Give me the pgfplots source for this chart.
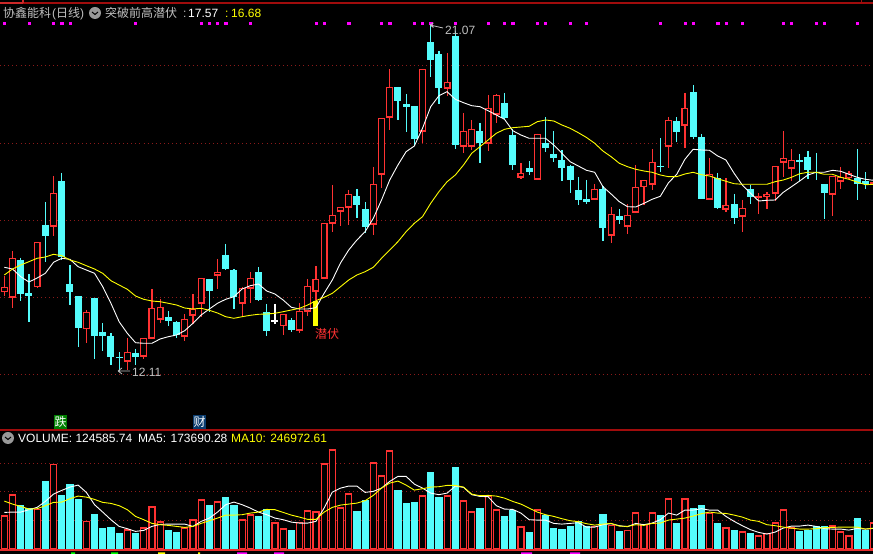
\documentclass[border=0pt]{standalone}
\usepackage{pgfplots}
\usepackage{pgfplotstable}
\usepackage{fontspec}
\pgfplotsset{compat=1.18}
\setmainfont{Liberation Sans}
\newfontfamily\cjk{Noto Sans CJK SC}

\definecolor{upred}{HTML}{FF3232}
\definecolor{downcyan}{HTML}{54FCFC}
\definecolor{gridred}{HTML}{8C1A1A}
\definecolor{linered}{HTML}{A00C0C}
\definecolor{labelgray}{HTML}{C0C0C0}
\definecolor{yellow}{HTML}{FFFF00}
\definecolor{magenta}{HTML}{FF00FF}
\definecolor{flaggreen}{HTML}{008000}
\definecolor{flagblue}{HTML}{0A3C6E}
\definecolor{cutgreen}{HTML}{00FF00}

% prices and averages are read in pixels from the top of the chart
% columns: day, body top, body bottom, high, low
\pgfplotstableread{
i top bot hi lo
0 287.3 292 275.7 296
1 258.3 297.7 251 308
4 242.3 287 242.3 288
6 193.3 226.7 176 236
10 312 329 310 343
15 352.3 361.7 338 370
17 338.3 356.7 338.3 359
18 308.3 338.7 289 339
19 307.3 319.7 299 323
22 319.3 336.7 314 341
23 309.3 315.7 294 324
24 278.3 303.7 278 317
26 272.3 275.7 259 289
29 288.3 303.7 287 317
30 278.3 288.7 272 303
34 314 326 314 335
36 311.3 330.7 303 333
37 286.3 311.7 279 316
38 279.3 291.7 266 300
39 223.3 278.7 223.3 278.7
40 215 223.7 185 232
41 207.3 211.7 207 226
42 194.3 207.7 190 225
45 184.3 224.7 167 235
46 118.3 174.7 118 188
47 87.3 117.7 69 130
51 69.3 131.7 69 143
54 82.3 88.7 53 96
56 131.3 146.7 113 153
57 129.3 146.7 120 150
59 108.3 143.7 95 151
60 95.3 114.7 94 123
63 173.3 177.7 163 179
65 133.7 179.7 133.7 180
72 189.3 199.7 184 200
74 214.3 235.7 207 243
76 215.3 226.7 204 234
77 187.3 212.7 165 213
78 180.3 187.3 180 205
79 162.3 184.7 149 190
81 120.3 146.7 117 168
83 108.3 125.7 93 148
86 174.3 199.7 158 200
88 205.3 209.7 178 212
90 208.3 216.7 200 232
92 196 198 193 214
93 194.3 197 192 209
94 166.3 193.7 166 201
95 158.3 162.7 131 177
96 160.3 168.7 149 181
101 176.3 194.7 176 216
102 177.3 181.7 167 189
103 173.3 178 171 179
106 182 184 180 186
}\upcandles

\pgfplotstableread{
i top bot hi lo
2 260 294 257.7 301
3 293 296 274 322
5 225 236 202 262
7 181 257.3 173 260
8 284 292 265 305
9 296 328 296 347
11 298 336 298 359
12 332 336 323 351
13 336 357 333 365
14 357 358 352 371
16 353 357 349 365
20 317 321 311 326
21 322 335 321 338
25 279 291 279 312
27 255 269 244 270
28 270 297 269 309
31 272 300 267 301
32 312 331 304 336
35 320 330 318 332
43 196 205 189 218
44 209 227 202 233
48 87 101 87 120
49 104 107 94 132
50 106 139 106 146
52 42 60 23 77
53 54 88 51 104
55 36 145 31 149
58 131 143 123 163
61 103 118 93 119
62 135 165 129 170
64 168 172 161 175
66 143 148 117 152
67 154 158 131 162
68 160 168 150 181
69 166 180 165 193
70 190 200 177 205
71 199 202 180 204
73 189 228 186 241
75 216 220 209 224
80 166 167 138 172
82 121 132 117 142
84 92 137 85 139
85 137 199 134 199
87 178 208 173 209
89 204 218 194 224
91 189 197 185 204
97 160 162 154 181
98 157 170 151 179
99 172 173 153 180
100 184 193 184 219
104 178 184 149 200
105 181 184 172 189
}\downcandles

\pgfplotstableread{
i top bot hi lo
33 320 321.7 304 324
}\flatcandles

\pgfplotstableread{
i ma5 ma10
0 267.3 275
1 269 269
2 276.7 265
3 282 261.7
4 278 258.3
5 273.3 257
6 262.3 254.3
7 258.3 255.7
8 259.3 260
9 266.7 262.3
10 270 265.7
11 273.3 269
12 286.7 273.3
13 303.3 280.7
14 321.7 285
15 333.3 289.3
16 342.7 296
17 343.3 299.3
18 343.3 301
19 339 301.7
20 336.7 303.3
21 335 305
22 330.7 308
23 323.3 309
24 315 308.3
25 309 310.3
26 303.3 313
27 299.3 316.7
28 296.7 318.3
29 289 316.7
30 285.7 315.3
31 284 314.3
32 291 314
33 294 313.3
34 300 311.7
35 307.3 310
36 309 308.3
37 309 305
38 307.7 300.7
39 293.3 297.3
40 280 293.3
41 263 286.7
42 250 280
43 240 275
44 231.7 271.7
45 218.3 267.3
46 200 258.3
47 180 250
48 165 241.7
49 151.7 231.7
50 146 223.3
51 128.3 216.7
52 106.7 203.3
53 95.7 191.7
54 91.7 181.7
55 99.3 175
56 102.7 165
57 105.7 153.3
58 106.7 146.7
59 110.7 140
60 115 133.3
61 119.3 129.3
62 130.7 127.7
63 135 127
64 138.3 126.3
65 138.3 121.7
66 138.3 120
67 145 121
68 153.3 125
69 161.7 128.3
70 166 132.7
71 170.3 137.5
72 172.3 143.3
73 186.7 151
74 194 156.7
75 201.7 163.3
76 206.7 166.7
77 207 169.3
78 203.3 171
79 199.3 172.3
80 196.3 175
81 182.7 176.7
82 174.3 176.7
83 159.3 174
84 149.3 172.3
85 150 174.7
86 150.3 176
87 156 178.7
88 160 181.3
89 173.3 183.7
90 185 184.3
91 193.3 184.3
92 201 184.3
93 200.3 184.3
94 200 181.7
95 192.3 180
96 186.7 177.3
97 181 173.7
98 175 172.3
99 172.3 172.3
100 172.3 174.3
101 170.3 174.3
102 171.3 177.3
103 174.3 179.3
104 177.3 182
105 179.3 184.7
106 180.3 184.3
}\priceavg

% volume bars, height in pixels above the baseline
\pgfplotstableread{
i v
0 32.3
1 53.3
4 38.7
6 83.7
10 26.7
15 18.3
17 20.3
18 41.3
19 26.3
22 20.3
23 28.3
24 48.3
26 46.3
29 28.3
30 33.3
33 25.3
34 19.3
36 26
37 37.3
38 36.3
39 84.3
40 98.3
41 40.3
42 54.3
45 85.3
46 72.3
47 97.3
51 52.3
54 52.3
56 47.3
57 36.3
59 51.7
60 38.3
63 21.3
65 38.3
72 21.7
74 22.7
76 17.7
77 35.3
78 23.7
79 35.3
81 49.3
83 49.3
86 34.7
88 20.3
90 16.3
92 12.3
93 14.7
94 25.3
95 38.3
96 20.3
101 22.3
102 16.3
103 12.3
106 25.3
}\volup

\pgfplotstableread{
i v
2 43
3 40
5 66.7
7 52.7
8 63.7
9 48.7
11 33.7
12 19.7
13 20.7
14 14.7
16 14.7
20 17.7
21 15.7
25 42.7
27 50.7
28 42.7
31 31.7
32 39
35 17.7
43 36.7
44 47.3
48 57.7
49 44.7
50 45.7
52 75.7
53 50.7
55 80.7
58 39.7
61 31.7
62 37.7
64 15.7
66 32.7
67 19.7
68 18.7
69 21.7
70 26.3
71 21.3
73 33.7
75 16.7
80 32.7
82 24.7
84 39.7
85 42.7
87 24.7
89 17.7
91 14.7
97 16.7
98 17.7
99 21.7
100 21.7
104 29.7
105 17.7
}\voldown

\pgfplotstableread{
i ma5 ma10
0 36 47.3
1 36.3 44.3
2 36.3 42
3 38.7 39.3
4 41 39.7
5 47 42.7
6 54.3 46
7 58 46.3
8 61.3 49.7
9 63.3 52.3
10 56 51.3
11 43.7 49
12 36.3 46
13 28.7 45
14 22 42.7
15 19.7 38.7
16 17 32
17 18 28.7
18 22 25
19 24 23.7
20 24.3 23
21 24.3 22
22 24.3 21
23 22 22
24 27 25
25 30.3 27.7
26 36.3 30.3
27 43.7 33.3
28 46.3 33.3
29 43.7 33.7
30 40.3 35.3
31 36.3 36.3
32 33.7 39
33 30.3 38.7
34 28.7 36
35 26.3 33.3
36 25.3 31.3
37 25.3 29
38 27 29
39 40.3 36.3
40 56.3 41
41 60.3 43.3
42 62.3 44.3
43 62.3 45.3
44 56 47.7
45 57 53
46 60.3 60.3
47 67 65.3
48 72 67.3
49 72 63.3
50 64.3 58.3
51 60.3 59.7
52 55.3 61.3
53 53.7 61.7
54 55.3 63
55 62.3 63
56 61 61.3
57 53.7 54.3
58 52 52.7
59 51.7 53
60 42.7 52.3
61 39.3 50.3
62 39 47
63 35.3 44.3
64 28.7 40.3
65 28.3 36.3
66 28.3 33.7
67 25 32
68 24.3 29.7
69 25 27.7
70 25.7 26.7
71 21.3 24.7
72 21.3 23.3
73 23.7 24.3
74 24.7 25
75 22.7 22.3
76 21.7 22
77 25 23.7
78 23.7 23
79 25.3 25
80 28.7 25.3
81 35.3 28.3
82 33.3 29.3
83 38.3 30.3
84 38.3 32.3
85 39.7 34.7
86 38.3 36.3
87 38.3 35.3
88 32 35
89 27 33.3
90 22.7 31.3
91 18.7 28.3
92 16 27
93 14.3 23.7
94 16.3 22.7
95 20.3 21.3
96 22.3 20.3
97 22.3 19.3
98 23.3 19.3
99 22 19.7
100 19.7 20.7
101 19.3 21
102 19.3 21.3
103 18.3 21.3
104 20 21.3
105 19.3 19.3
106 20 20.3
}\volavg

\pgfplotsset{
  chart/.style={
    scale only axis, width=873bp,
    xmin=-0.528, xmax=105.94,
    xtick=\empty, yticklabels={},
    axis line style={draw=none},
    major tick length=0pt,
    ymajorgrids,
    grid style={gridred, line width=0.9bp, dash pattern=on 1bp off 3.1bp},
  },
}
% one candle per table row: wick, then body. #2 outline colour, #3 fill colour
\newcommand\candles[3]{%
  \pgfplotstablegetrowsof{#1}%
  \pgfmathtruncatemacro\lastrow{\pgfplotsretval-1}%
  \pgfplotsforeachungrouped \r in {0,...,\lastrow}{%
    \pgfplotstablegetelem{\r}{i}\of#1\let\Ci\pgfplotsretval
    \pgfplotstablegetelem{\r}{hi}\of#1\let\Wh\pgfplotsretval
    \pgfplotstablegetelem{\r}{lo}\of#1\let\Wl\pgfplotsretval
    \pgfplotstablegetelem{\r}{top}\of#1\let\Bt\pgfplotsretval
    \pgfplotstablegetelem{\r}{bot}\of#1\let\Bb\pgfplotsretval
    \pgfmathsetmacro\Bl{\Ci-0.36}%
    \pgfmathsetmacro\Br{\Ci+0.36}%
    \pgfmathsetmacro\Bt{\Bt+0.6}%
    \pgfmathsetmacro\Bb{\Bb-0.6}%
    \edef\next{%
      \noexpand\addplot[forget plot, #2, line width=1.2bp] coordinates {(\Ci,\Wh) (\Ci,\Wl)};
      \noexpand\addplot[forget plot, draw=#2, fill=#3, line width=1.2bp]
        coordinates {(\Bl,\Bt) (\Br,\Bt) (\Br,\Bb) (\Bl,\Bb)} --cycle;
    }\next
  }}
% text with its base line at pixel x, y of the picture
\newcommand\txt[4]{\node[anchor=base west, inner sep=0pt, text=#3] at (#1bp,{(554-#2)*1bp}) {#4};}

\begin{document}
\begin{tikzpicture}[x=1bp, y=1bp]
\path[use as bounding box] (0,0) rectangle (873,554);
\fill[black] (0,0) rectangle (873,554);

\begin{axis}[chart, at={(0,0)}, anchor=south west,
  height=554bp, ymin=0, ymax=554, y dir=reverse,
  ytick={65,143,220,297,374}]
\candles{\upcandles}{upred}{black}
\candles{\downcandles}{downcyan}{downcyan}
\candles{\flatcandles}{white}{white}
% signal bar
\addplot[forget plot, draw=none, fill=yellow]
  coordinates {(37.65,301) (38.25,301) (38.25,325.7) (37.65,325.7)} --cycle;
\addplot[white, line width=0.9bp, no marks] table[x=i, y=ma5] {\priceavg};
\addplot[yellow, line width=0.9bp, no marks] table[x=i, y=ma10] {\priceavg};
% signal marks along the top
\addplot[only marks, mark=square*, mark size=1.1bp, color=magenta, mark options={draw=none}]
  table {
0 23
3 23
6 23
7 23
8 23
16 23
24 23
25 23
26 23
27 23
30 23
38 23
39 23
42 23
46 23
47 23
50 23
51 23
52 23
55 23
59 23
61 23
62 23
65 23
66 23
69 23
71 23
80 23
83 23
84 23
87 23
88 23
90 23
95 23
96 23
99 23
100 23
104 23
};
\end{axis}

\begin{axis}[chart, at={(0,5.6bp)}, anchor=south west,
  height=118bp, ymin=0, ymax=118,
  ytick={28.4,57.4,85.4}]
\addplot[ybar, bar width=6bp, bar shift=0pt, draw=upred, fill=black, line width=1.2bp]
  table[x=i, y=v] {\volup};
\addplot[ybar, bar width=6bp, bar shift=0pt, draw=downcyan, fill=downcyan, line width=1.2bp]
  table[x=i, y=v] {\voldown};
\addplot[white, line width=0.9bp, no marks] table[x=i, y=ma5] {\volavg};
\addplot[yellow, line width=0.9bp, no marks] table[x=i, y=ma10] {\volavg};
\end{axis}

% frame lines
\draw[linered, line width=1.2bp] (0,551) -- (873,551);
\draw[upred!80!black, line width=1.2bp] (0,551) -- (23,551) (23,551) -- (23,554);
\draw[linered, line width=1bp] (861,551) -- (861,554);
\draw[linered, line width=1.2bp] (0,124) -- (873,124);
\draw[upred!90!black, line width=1.2bp] (0,4) -- (873,4);

% title line
\fontsize{12bp}{14bp}\selectfont
\txt{3}{18}{labelgray}{{\cjk 协鑫能科}}
\txt{52}{18}{labelgray}{({\cjk 日线})}
\fill[gray!80] (95,541) circle (6);
\draw[black, line width=1bp] (92,542) -- (95,539.5) -- (98,542);
\txt{105}{18}{labelgray}{{\cjk 突破前高潜伏}}
\txt{183}{18}{labelgray}{:}
\txt{188}{18}{white}{17.57}
\txt{225}{18}{yellow}{:}
\txt{231}{18}{yellow}{16.68}

% price labels
\txt{445}{34.5}{labelgray}{21.07}
\draw[labelgray, line width=.8bp] (430,529) -- (443,526) (430,529) -- (433.5,531) (430,529) -- (433.5,526.5);
\txt{132}{376.5}{labelgray}{12.11}
\draw[labelgray, line width=.8bp] (130,183) -- (118,183) (118,183) -- (122,186) (118,183) -- (122,180);
\txt{315}{339}{upred}{{\cjk 潜伏}}

% small event flags
\fill[flaggreen] (54,125) rectangle (67,139);
\node[text=white, inner sep=0pt] at (60.5,132) {\cjk 跌};
\fill[flagblue] (193,125) rectangle (206,139);
\node[text=white, inner sep=0pt] at (199.5,132) {\cjk 财};

% volume legend
\fill[gray!80] (8,116) circle (6);
\draw[black, line width=1bp] (5,117) -- (8,114.5) -- (11,117);
\txt{18}{443}{white}{VOLUME: 124585.74}
\txt{138}{443}{white}{MA5: 173690.28}
\txt{231}{443}{yellow}{MA10: 246972.61}

% tops of the row of text cut off at the bottom edge
\fill[cutgreen] (71,0) rectangle (75,1.5) (111,0) rectangle (118,1.5);
\fill[yellow] (158,0) rectangle (165,1.5) (198,0) rectangle (200,1.5);
\fill[magenta] (237,0) rectangle (247,1.5) (274,0) rectangle (284,1.5)
  (521,0) rectangle (532,1.5) (570,0) rectangle (580,1.5);
\end{tikzpicture}
\end{document}
